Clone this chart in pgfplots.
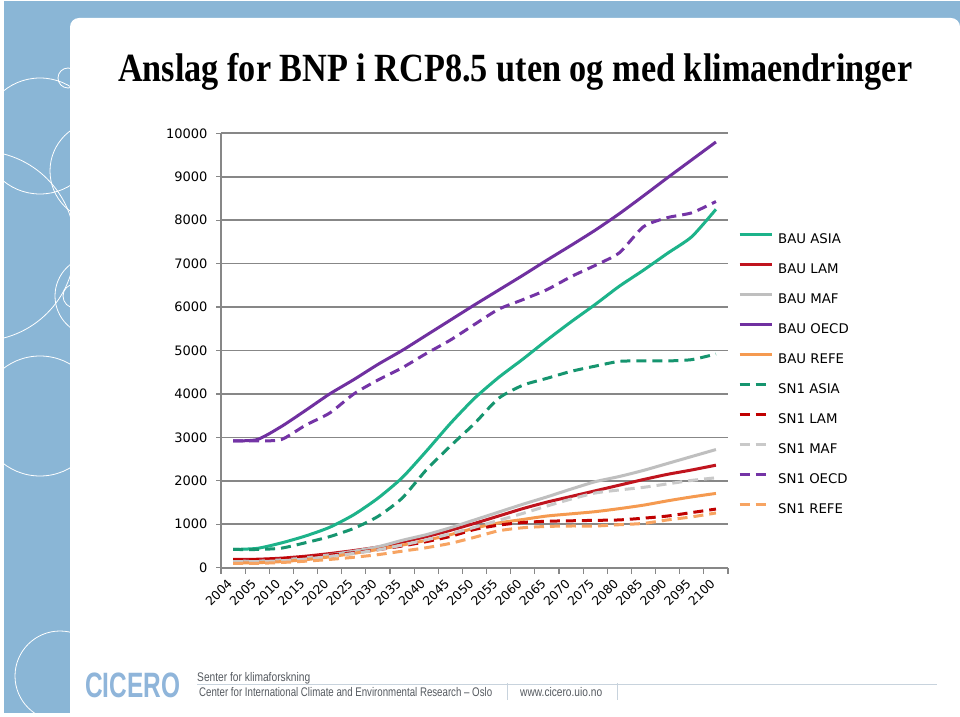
\documentclass[border=0pt]{standalone}
\usepackage{fontspec}
\usepackage{graphicx}
\usepackage{pgfplots}
\usepackage{pgfplotstable}
\pgfplotsset{compat=1.18}
\setmainfont{DejaVu Sans}
\newfontfamily\titlefont{Liberation Serif}
\newfontfamily\footfont{Liberation Sans}

\definecolor{bandblue}{HTML}{8AB6D6}
\definecolor{ciceroblue}{HTML}{8FB5DA}
\definecolor{gridgray}{HTML}{878787}
\definecolor{asiaB}{HTML}{1DB38A}
\definecolor{asiaS}{HTML}{16956F}
\definecolor{lamB}{HTML}{C0141E}
\definecolor{lamS}{HTML}{C00000}
\definecolor{mafB}{HTML}{BFBFBF}
\definecolor{mafS}{HTML}{C9C9C9}
\definecolor{oecdB}{HTML}{7030A0}
\definecolor{oecdS}{HTML}{7434A6}
\definecolor{refeB}{HTML}{F59A50}
\definecolor{refeS}{HTML}{F7A462}
\definecolor{foottext}{HTML}{555A60}
\definecolor{footline}{HTML}{C8D3DD}

\pgfplotstableread{
x asiaB lamB mafB oecdB refeB asiaS lamS mafS oecdS refeS
0 420 190 150 2920 110 420 180 140 2920 100
1 445 195 150 2950 115 420 185 140 2920 100
2 570 220 180 3250 140 450 205 160 2950 120
3 730 265 225 3620 185 575 240 200 3280 150
4 930 325 295 4000 250 715 290 260 3560 190
5 1220 395 380 4330 330 905 345 330 4000 240
6 1600 475 480 4680 420 1180 415 410 4320 300
7 2070 590 630 5000 520 1600 500 520 4600 380
8 2680 715 760 5350 630 2250 600 640 4930 460
9 3320 860 920 5700 760 2800 720 780 5240 560
10 3900 1020 1100 6050 910 3320 880 930 5600 700
11 4380 1190 1280 6390 1030 3900 980 1090 5950 850
12 4800 1360 1460 6730 1110 4200 1040 1250 6170 920
13 5240 1510 1630 7080 1190 4360 1070 1420 6400 950
14 5660 1640 1810 7420 1240 4520 1080 1580 6700 960
15 6060 1770 1980 7770 1290 4640 1090 1720 6960 960
16 6480 1900 2100 8150 1360 4750 1100 1790 7250 990
17 6850 2030 2240 8560 1440 4760 1140 1850 7850 1020
18 7240 2150 2400 8980 1540 4760 1190 1930 8060 1100
19 7620 2250 2560 9390 1630 4790 1270 2010 8170 1170
20 8250 2360 2720 9800 1710 4920 1350 2070 8430 1260
}\gdp

\begin{document}
\begin{tikzpicture}[x=1pt,y=1pt]
% slide background
\path[use as bounding box] (0,0) rectangle (960,716);
\fill[white] (0,0) rectangle (960,716);
\fill[bandblue] (4,3) rectangle (960,715);
\begin{scope}
\clip (4,3) rectangle (70,715);
\draw[white, line width=0.8pt] (40,580) circle (58);
\draw[white, line width=0.8pt] (100,545) circle (50);
\draw[white, line width=0.8pt] (68,638) circle (10);
\draw[white, line width=0.8pt] (-20,470) circle (95);
\draw[white, line width=0.8pt] (95,420) circle (40);
\draw[white, line width=0.8pt] (75,420) circle (12);
\draw[white, line width=0.8pt] (40,300) circle (60);
\draw[white, line width=0.8pt] (60,40) circle (45);
\end{scope}
\fill[white, rounded corners=9pt] (70,3) -- (70,698) -- (960,698) -- (960,3) -- cycle;
\fill[white] (70,3) rectangle (960,20);

% title
\node[anchor=base west, inner sep=0pt] at (118,634.3)
  {\resizebox{794pt}{\height}{\titlefont\bfseries\fontsize{40}{48}\selectfont Anslag for BNP i RCP8.5 uten og med klimaendringer}};

\begin{axis}[
  at={(221pt,148.3pt)}, anchor=south west,
  scale only axis, width=507pt, height=434.4pt,
  xmin=-0.5, xmax=20.5, ymin=0, ymax=10000,
  axis x line*=bottom, axis y line*=left,
  axis line style={draw=gridgray, line width=1.3pt},
  ytick={0,1000,...,10000},
  scaled y ticks=false,
  ymajorgrids,
  major grid style={draw=gridgray, line width=1.6pt},
  tick align=outside,
  major tick length=5pt, minor tick length=6pt,
  tick style={draw=gridgray, line width=1.2pt},
  xtick={0,...,20},
  xticklabels={2004,2005,2010,2015,2020,2025,2030,2035,2040,2045,2050,2055,2060,2065,2070,2075,2080,2085,2090,2095,2100},
  major x tick style={draw=none},
  minor xtick={-0.5,0.5,...,20.5},
  xticklabel style={yshift=-8pt, xshift=-2.5pt, rotate=45, anchor=east, font=\fontsize{12.3}{14}\selectfont, text=black, inner sep=1pt},
  yticklabel style={xshift=-5pt, font=\fontsize{13}{15}\selectfont, text=black},
  /pgf/number format/1000 sep={},
  /pgf/number format/assume math mode=true,
  every axis plot/.append style={line width=3pt, smooth, tension=0.4},
  legend style={at={(rel axis cs:1.0197,0.7705)}, anchor=north west, draw=none, fill=none,
    inner sep=0pt, row sep=19.45pt, column sep=5pt,
    font=\fontsize{13.3}{15}\selectfont,
    nodes={inner sep=0pt, text height=10pt, text depth=0pt}},
  legend cell align=left,
  legend image code/.code={\draw[#1, smooth=false] (0pt,4pt) -- (32pt,4pt);},
]
\addplot[asiaB] table[x=x,y=asiaB]{\gdp};
\addlegendentry{BAU ASIA}
\addplot[lamB] table[x=x,y=lamB]{\gdp};
\addlegendentry{BAU LAM}
\addplot[mafB] table[x=x,y=mafB]{\gdp};
\addlegendentry{BAU MAF}
\addplot[oecdB] table[x=x,y=oecdB]{\gdp};
\addlegendentry{BAU OECD}
\addplot[refeB] table[x=x,y=refeB]{\gdp};
\addlegendentry{BAU REFE}
\addplot[asiaS, dash pattern=on 10pt off 6pt] table[x=x,y=asiaS]{\gdp};
\addlegendentry{SN1 ASIA}
\addplot[lamS, dash pattern=on 10pt off 6pt] table[x=x,y=lamS]{\gdp};
\addlegendentry{SN1 LAM}
\addplot[mafS, dash pattern=on 10pt off 6pt] table[x=x,y=mafS]{\gdp};
\addlegendentry{SN1 MAF}
\addplot[oecdS, dash pattern=on 10pt off 6pt] table[x=x,y=oecdS]{\gdp};
\addlegendentry{SN1 OECD}
\addplot[refeS, dash pattern=on 10pt off 6pt] table[x=x,y=refeS]{\gdp};
\addlegendentry{SN1 REFE}
\end{axis}

% footer
\node[anchor=base west, inner sep=0pt, text=ciceroblue] at (85,18.7)
  {\resizebox{95pt}{24.6pt}{\footfont\bfseries CICERO}};
\node[anchor=base west, inner sep=0pt, text=foottext] at (197,35)
  {\resizebox{113pt}{\height}{\footfont\fontsize{12.5}{14}\selectfont Senter for klimaforskning}};
\draw[footline, line width=0.8pt] (197,31.7) -- (937,31.7);
\node[anchor=base west, inner sep=0pt, text=foottext] at (199,19.3)
  {\resizebox{293pt}{\height}{\footfont\fontsize{12.5}{14}\selectfont Center for International Climate and Environmental Research – Oslo}};
\draw[footline, line width=0.8pt] (507,33) -- (507,16);
\node[anchor=base west, inner sep=0pt, text=foottext] at (520,19.3)
  {\resizebox{82pt}{\height}{\footfont\fontsize{12.5}{14}\selectfont www.cicero.uio.no}};
\draw[footline, line width=0.8pt] (617,33) -- (617,16);
\end{tikzpicture}
\end{document}
